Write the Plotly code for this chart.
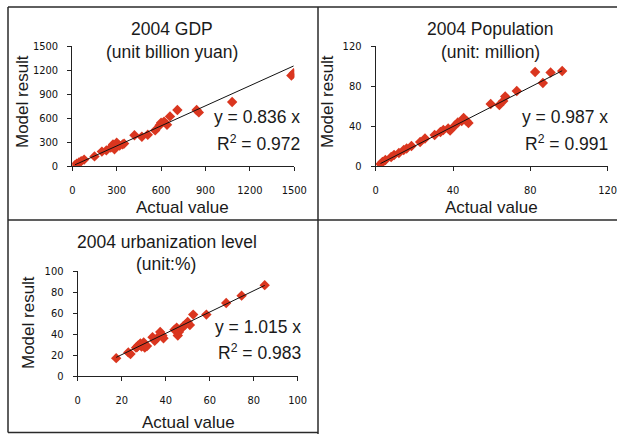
import plotly.graph_objects as go

W, H = 617, 434

# ---- data: actual vs model values per province ----
gdp_actual = [18, 30, 45, 60, 80, 150, 200, 230, 260, 275, 285, 290, 300, 320, 340, 350,
              420, 470, 510, 560, 590, 600, 620, 640, 660, 710, 840, 855, 1080, 1480, 1495]
gdp_model = [10, 30, 45, 60, 80, 120, 180, 195, 230, 270, 210, 250, 290, 255, 270, 280,
             385, 365, 390, 445, 510, 540, 555, 515, 620, 700, 700, 670, 800, 1130, 1160]

pop_actual = [2.5, 3.5, 5, 8, 9.5, 12, 14.5, 16, 18.5, 23, 25.5, 30.5, 33.5, 35, 37.5, 38.5,
              41, 42.5, 44.5, 45.5, 47, 48, 59.5, 64, 66, 67, 73, 82.5, 86.5, 90.5, 96.5]
pop_model = [2, 4, 6, 9, 11, 13, 16, 17.5, 20, 24, 27.5, 31, 34, 36, 37.5, 35.5,
             40.5, 43.5, 45, 48, 45, 43, 62, 61, 65, 69.5, 75, 94, 83, 93.5, 95]

urb_actual = [17.5, 23, 24, 26.5, 27, 27.5, 28.5, 29, 30, 30.5, 31.5, 34, 35, 36, 37.5, 38.5,
              39, 44, 45, 45.5, 46, 47, 48, 49, 50, 51, 52.5, 58.5, 67.5, 74.5, 85]
urb_model = [17, 22.5, 21, 27, 27.5, 29, 31, 28, 32, 27, 28.5, 37, 33.5, 36, 42, 38.5,
             36, 44, 46, 38.5, 42, 45, 47.5, 49, 51.5, 48.5, 58.5, 58.5, 69.5, 76.5, 86.5]

slopes = {"gdp": 0.836, "pop": 0.987, "urb": 1.015}
r2 = {"gdp": 0.972, "pop": 0.991, "urb": 0.983}

gdp_ticks = [0, 300, 600, 900, 1200, 1500]
pop_ticks = [0, 40, 80, 120]
urb_ticks = [0, 20, 40, 60, 80, 100]

titles = {
    "gdp": ("2004 GDP", "(unit billion yuan)"),
    "pop": ("2004 Population", "(unit: million)"),
    "urb": ("2004 urbanization level", "(unit:%)"),
}

MARK = "#DA361F"
MAIN_FONT = "Arial, Liberation Sans, sans-serif"
TICK_FONT = "Liberation Sans Narrow, Arial Narrow, DejaVu Sans Condensed, sans-serif"


def px_x(x):
    return x / W


def px_y(y):
    return 1 - y / H


fig = go.Figure()

panels = [
    # key, actual, model, axis suffix, x pixels (0..max), y pixels (0..max), ticks
    ("gdp", gdp_actual, gdp_model, "", (72.3, 294.3), (166, 46), gdp_ticks),
    ("pop", pop_actual, pop_model, "2", (375.7, 607.6), (166, 46), pop_ticks),
    ("urb", urb_actual, urb_model, "3", (77.7, 297.7), (376, 271), urb_ticks),
]

for key, xa, ya, sfx, xpx, ypx, ticks in panels:
    xref = "x" + sfx
    yref = "y" + sfx
    fig.add_trace(go.Scatter(
        x=xa, y=ya, mode="markers", xaxis=xref, yaxis=yref,
        marker=dict(symbol="diamond", size=8, color=MARK, line=dict(width=0)),
        showlegend=False, hoverinfo="x+y",
    ))
    x0, x1 = min(xa), max(xa)
    k = slopes[key]
    fig.add_trace(go.Scatter(
        x=[x0, x1], y=[k * x0, k * x1], mode="lines", xaxis=xref, yaxis=yref,
        line=dict(color="#111111", width=1), showlegend=False, hoverinfo="skip",
    ))
    axis_common = dict(
        showline=True, linecolor="#222222", linewidth=1, showgrid=False, zeroline=False,
        ticks="outside", ticklen=4, tickcolor="#222222", tickwidth=1,
        tickvals=ticks, tickfont=dict(family=TICK_FONT, size=11, color="#111111"),
        range=[ticks[0], ticks[-1]], fixedrange=True, automargin=False,
        ticklabeloverflow="allow",
    )
    fig.layout["xaxis" + sfx] = dict(
        axis_common, domain=[px_x(xpx[0]), px_x(xpx[1])], anchor=yref,
        ticklabelstandoff=10,
    )
    fig.layout["yaxis" + sfx] = dict(
        axis_common, domain=[px_y(ypx[0]), px_y(ypx[1])], anchor=xref,
        ticklabelstandoff=7,
    )

ann = []


def text(x, y, s, size=17, xanchor="center", angle=0):
    ann.append(dict(
        x=px_x(x), y=px_y(y), xref="paper", yref="paper", text=s, showarrow=False,
        xanchor=xanchor, yanchor="middle", textangle=angle,
        font=dict(family=MAIN_FONT, size=size, color="#1a1a1a"),
    ))


# chart titles
text(172, 29, titles["gdp"][0], 17.5)
text(172, 52, titles["gdp"][1], 17.5)
text(490, 29, titles["pop"][0], 17.5)
text(490, 52, titles["pop"][1], 17.5)
text(167, 242, titles["urb"][0], 17.5)
text(166, 264, titles["urb"][1], 17.5)

# axis titles
text(183, 208, "Actual value")
text(491, 208, "Actual value")
text(188, 422, "Actual value")
text(23, 102, "Model result", angle=-90)
text(328, 102, "Model result", angle=-90)
text(28, 323, "Model result", angle=-90)

# fitted equations
for key, xr, y1, y2 in [("gdp", 302, 117, 143), ("pop", 610, 117, 143), ("urb", 303, 327, 352)]:
    text(xr, y1, f"y = {slopes[key]:.3f} x", 17.5, xanchor="right")
    text(xr, y2, f"R<sup>2</sup> = {r2[key]:.3f}", 17.5, xanchor="right")

# panel frame lines
frame = [
    (8, 7, 617, 7),
    (8, 220, 617, 220),
    (8, 432.5, 318, 432.5),
    (8, 7, 8, 432.5),
    (318, 7, 318, 434),
]
shapes = [
    dict(type="line", xref="paper", yref="paper",
         x0=px_x(a), y0=px_y(b), x1=px_x(c), y1=px_y(d),
         line=dict(color="#2a2a2a", width=1.5))
    for a, b, c, d in frame
]

fig.update_layout(
    width=W, height=H, margin=dict(l=0, r=0, t=0, b=0, autoexpand=False),
    paper_bgcolor="white", plot_bgcolor="rgba(0,0,0,0)",
    annotations=ann, shapes=shapes,
)

# keep the page exactly the size of the figure (no body margin, no scrollbars)
fig.write_html(
    "out.html",
    post_script="document.documentElement.style.overflow='hidden';"
                "document.body.style.overflow='hidden';document.body.style.margin='0';",
)
